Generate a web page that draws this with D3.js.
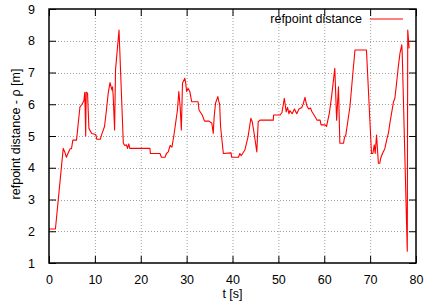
<!DOCTYPE html>
<html>
<head>
<meta charset="utf-8">
<script src="https://cdn.jsdelivr.net/npm/d3@7"></script>
<style>
  body { margin: 0; background: #fff; }
  svg text { font-family: "Liberation Sans", Arial, sans-serif; fill: #000; }
</style>
</head>
<body>
<svg id="chart" width="426" height="306"></svg>
<script>
const times = [
  0.0, 1.4, 3.1, 3.5, 3.8, 4.2, 4.6, 4.9, 5.2, 6.0, 6.75, 7.2, 7.6, 7.8, 8.0, 8.1, 8.4, 8.7, 9.3, 10.2,
  10.4, 11.2, 11.5, 12.1, 12.4, 12.9, 13.3, 13.7, 13.85, 14.0, 14.3, 14.5, 15.26, 16.2, 16.5, 16.9, 17.1, 17.4, 17.6, 22.0,
  22.1, 24.2, 24.5, 25.3, 25.6, 26.0, 26.4, 26.8, 27.2, 27.5, 28.0, 28.3, 28.6, 28.85, 29.1, 29.6, 29.8, 30.0, 30.3, 30.7,
  31.1, 32.5, 32.7, 33.0, 33.4, 33.9, 34.9, 35.5, 35.8, 36.0, 36.3, 36.8, 37.0, 37.2, 37.4, 38.0, 39.7, 39.8, 41.3, 41.6,
  41.9, 42.2, 42.7, 43.4, 44.0, 44.3, 44.8, 45.3, 45.6, 46.0, 48.9, 48.95, 50.4, 50.8, 51.3, 51.7, 52.0, 52.3, 52.5, 53.0,
  53.5, 54.0, 54.5, 55.1, 55.4, 55.8, 56.2, 56.6, 57.0, 57.3, 58.2, 58.4, 59.1, 59.3, 60.2, 60.5, 61.1, 61.6, 62.3, 62.7,
  63.1, 63.4, 64.2, 64.4, 64.7, 65.6, 66.3, 66.7, 69.2, 70.3, 70.6, 70.9, 71.1, 71.4, 71.8, 72.1, 72.3, 72.7, 73.2, 73.6,
  74.0, 74.3, 75.1, 75.4, 75.8, 76.1, 76.5, 76.9, 77.0, 78.1, 78.2, 78.5
];
const distances = [
  2.07, 2.07, 4.61, 4.47, 4.33, 4.47, 4.6, 4.6, 4.87, 4.87, 5.92, 6.0, 6.11, 6.38, 5.0, 6.38, 6.35, 5.24, 5.08, 5.05,
  4.9, 4.9, 5.05, 5.3, 5.66, 6.34, 6.68, 6.45, 6.55, 6.24, 5.19, 7.08, 8.34, 4.77, 4.7, 4.72, 4.61, 4.75, 4.61, 4.61,
  4.45, 4.45, 4.33, 4.33, 4.45, 4.5, 4.7, 4.65, 5.0, 5.3, 5.82, 6.4, 5.9, 5.19, 6.66, 6.82, 6.66, 6.4, 6.5, 6.4,
  6.08, 6.08, 5.82, 5.75, 5.66, 5.47, 5.47, 5.4, 5.08, 5.6, 6.03, 6.24, 6.1, 6.0, 5.3, 4.45, 4.47, 4.33, 4.33, 4.45,
  4.38, 4.45, 4.56, 4.98, 5.56, 5.45, 5.0, 4.5, 5.45, 5.5, 5.5, 5.66, 5.66, 5.75, 6.19, 5.76, 5.9, 5.7, 5.8, 5.7,
  5.85, 5.7, 5.85, 5.9, 6.0, 6.22, 5.95, 5.85, 5.88, 5.77, 5.56, 5.5, 5.5, 5.35, 5.35, 5.3, 5.71, 6.24, 7.13, 5.5,
  6.55, 4.77, 4.77, 4.95, 5.03, 5.92, 7.08, 7.71, 7.71, 4.45, 4.45, 4.72, 4.45, 5.03, 4.14, 4.14, 4.3, 4.45, 4.6, 4.87,
  5.1, 5.4, 6.08, 6.19, 6.71, 7.13, 7.6, 7.87, 7.6, 1.37, 8.34, 7.76
];
const xTicks = [0, 10, 20, 30, 40, 50, 60, 70, 80];
const yTicks = [1, 2, 3, 4, 5, 6, 7, 8, 9];
const seriesName = "refpoint distance";

const svg = d3.select("#chart");
const width = +svg.attr("width");
const height = +svg.attr("height");
const margin = { top: 9, right: 10, bottom: 43, left: 49 };
const plotW = width - margin.left - margin.right;
const plotH = height - margin.top - margin.bottom;

const x = d3.scaleLinear().domain([0, 80]).range([margin.left, margin.left + plotW]);
const y = d3.scaleLinear().domain([1, 9]).range([margin.top + plotH, margin.top]);

// grid
const grid = svg.append("g")
  .attr("stroke", "#a0a0a0")
  .attr("stroke-width", 1)
  .attr("stroke-dasharray", "1,2");
grid.selectAll(".gx").data(xTicks.slice(1, -1)).enter().append("line")
  .attr("x1", d => x(d) + 0.5).attr("x2", d => x(d) + 0.5)
  .attr("y1", y(9)).attr("y2", y(1));
grid.selectAll(".gy").data(yTicks.slice(1, -1)).enter().append("line")
  .attr("y1", d => Math.round(y(d)) + 0.5).attr("y2", d => Math.round(y(d)) + 0.5)
  .attr("x1", x(0)).attr("x2", x(80));

// axes with inward ticks, mirrored
const tick = 7;
svg.append("g")
  .attr("transform", `translate(0,${y(1)})`)
  .call(d3.axisBottom(x).tickValues(xTicks).tickSizeInner(-tick).tickSizeOuter(0).tickPadding(tick + 5))
  .call(g => g.select(".domain").remove());
svg.append("g")
  .attr("transform", `translate(0,${y(9)})`)
  .call(d3.axisTop(x).tickValues(xTicks).tickSizeInner(-tick).tickSizeOuter(0).tickFormat(""))
  .call(g => g.select(".domain").remove());
svg.append("g")
  .attr("transform", `translate(${x(0)},0)`)
  .call(d3.axisLeft(y).tickValues(yTicks).tickSizeInner(-tick).tickSizeOuter(0).tickPadding(tick + 7))
  .call(g => g.select(".domain").remove());
svg.append("g")
  .attr("transform", `translate(${x(80)},0)`)
  .call(d3.axisRight(y).tickValues(yTicks).tickSizeInner(-tick).tickSizeOuter(0).tickFormat(""))
  .call(g => g.select(".domain").remove());

svg.selectAll(".tick line").attr("stroke", "#000").attr("stroke-width", 1);
svg.selectAll(".tick text")
  .style("font-family", '"Liberation Sans", Arial, sans-serif')
  .style("font-size", "12.5px");

// data line
const pts = times.map((t, i) => [t, distances[i]]);
svg.append("path")
  .datum(pts)
  .attr("fill", "none")
  .attr("stroke", "#ff0000")
  .attr("stroke-width", 1.1)
  .attr("stroke-linejoin", "round")
  .attr("d", d3.line().x(d => x(d[0])).y(d => y(d[1])));

// frame
svg.append("rect")
  .attr("x", x(0)).attr("y", y(9))
  .attr("width", x(80) - x(0)).attr("height", y(1) - y(9))
  .attr("fill", "none")
  .attr("stroke", "#000")
  .attr("stroke-width", 1.5);

// legend
svg.append("text")
  .attr("x", 362).attr("y", 23)
  .attr("text-anchor", "end")
  .style("font-size", "12.5px")
  .text(seriesName);
svg.append("line")
  .attr("x1", 370).attr("x2", 403)
  .attr("y1", 19).attr("y2", 19)
  .attr("stroke", "#ff0000")
  .attr("stroke-width", 1);

// axis labels
svg.append("text")
  .attr("x", (x(0) + x(80)) / 2).attr("y", 298)
  .attr("text-anchor", "middle")
  .style("font-size", "12.5px")
  .text("t [s]");
svg.append("text")
  .attr("transform", `translate(20,134) rotate(-90)`)
  .attr("text-anchor", "middle")
  .style("font-size", "12.5px")
  .text("refpoint distance - ρ [m]");
</script>
</body>
</html>
